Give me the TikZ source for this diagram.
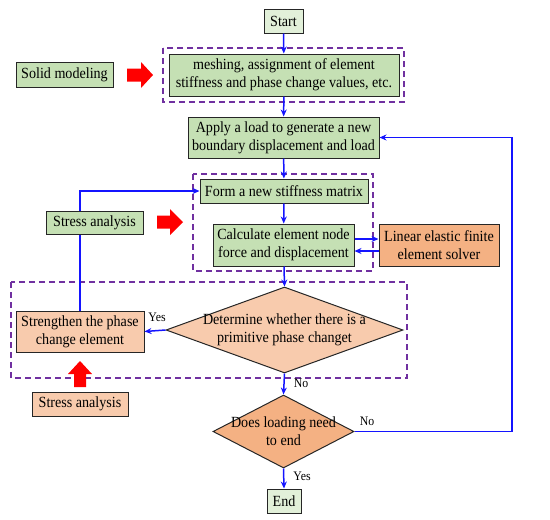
\documentclass[tikz,border=0pt]{standalone}
\usepackage{fontspec}
\setmainfont{Liberation Serif}[FakeStretch=0.91]
\usetikzlibrary{shapes.geometric,arrows.meta}
\definecolor{gbox}{RGB}{197,224,180}
\definecolor{gl}{RGB}{226,240,217}
\definecolor{od}{RGB}{244,177,131}
\definecolor{ol}{RGB}{248,203,173}
\definecolor{pur}{RGB}{112,48,160}
\definecolor{fblue}{RGB}{20,20,255}
\definecolor{red0}{RGB}{255,0,0}
\begin{document}
\begin{tikzpicture}[x=1pt,y=-1pt,
  box/.style={draw=black!85, line width=1pt, align=center, inner sep=0pt, font=\fontsize{15.5}{18}\selectfont},
  dia/.style={draw=black!85, line width=1pt, shape=diamond, inner sep=0pt},
  txt/.style={align=center, inner sep=0pt, font=\fontsize{15.5}{18}\selectfont},
  lbl/.style={inner sep=0pt, text=black, font=\fontsize{13}{15}\selectfont},
  flow/.style={fblue, line width=1.5pt, -{Stealth[length=7pt,width=6pt]}},
  grp/.style={draw=pur, line width=1.3pt, dash pattern=on 6pt off 4pt},
  blk/.style={fill=red0, draw=none}]
\useasboundingbox (0,0) rectangle (550,520);
% group frames
\draw[grp] (163,48) rectangle (404,102);
\draw[grp] (193,174) rectangle (373,271);
\draw[grp] (11,282) rectangle (407,378);
% nodes
\node[box, fill=gl, minimum width=39, minimum height=24] (start) at (283.5,21) {Start};
\node[box, fill=gbox, minimum width=230, minimum height=42] (mesh) at (284,75) {meshing, assignment of element\\stiffness and phase change values, etc.};
\node[box, fill=gbox, minimum width=97, minimum height=25] (solid) at (64.5,74.5) {Solid modeling};
\node[box, fill=gbox, minimum width=191, minimum height=41] (apply) at (283.5,137.5) {Apply a load to generate a new\\boundary displacement and load};
\node[box, fill=gbox, minimum width=168, minimum height=24] (form) at (284,191) {Form a new stiffness matrix};
\node[box, fill=gbox, minimum width=141, minimum height=42] (calc) at (283.5,245) {Calculate element node\\force and displacement};
\node[box, fill=od, minimum width=120, minimum height=42] (lin) at (439,245) {Linear elastic finite\\element solver};
\node[box, fill=ol, minimum width=128, minimum height=41] (str) at (80,331.5) {Strengthen the phase\\change element};
\node[box, fill=ol, minimum width=96, minimum height=24] (stro) at (80,404) {Stress analysis};
\node[dia, fill=ol, minimum width=237, minimum height=86] (d1) at (284.5,330) {};
\node[txt] at (d1) {Determine whether there is a\\primitive phase changet};
\node[dia, fill=od, minimum width=141, minimum height=73] (d2) at (283.5,431.5) {};
\node[txt] at (d2) {Does loading need\\to end};
\node[box, fill=gl, minimum width=34, minimum height=24] (end) at (284,501) {End};
\coordinate (rt) at (512,431.5);
% connectors
\draw[flow] (start) -- (mesh);
\draw[flow] (mesh) -- (apply);
\draw[flow] (apply) -- (form);
\draw[flow] (form) -- (calc);
\draw[flow] (calc) -- (d1.north);
\draw[flow] ([yshift=6pt]calc.east) -- ([yshift=6pt]lin.west);
\draw[flow] ([yshift=-6pt]lin.west) -- ([yshift=-6pt]calc.east);
\draw[flow] (d1.west) -- (str.east) node[lbl, pos=0.4, above=8pt] {Yes};
\draw[flow] (str.north) |- (form.west);
\draw[flow] (d1.south) -- (d2.north) node[lbl, pos=0.45, right=9pt] {No};
\draw[flow] (d2.east) -- (rt) |- (apply.east);
\node[lbl] at (367,421) {No};
\draw[flow] (d2.south) -- (end.north) node[lbl, pos=0.4, right=9pt] {Yes};
% stress analysis box over the line
\node[box, fill=gbox, minimum width=97, minimum height=23] (strg) at (94.5,222.5) {Stress analysis};
% red block arrows
\fill[blk] (127,68.5) -- (141,68.5) -- (141,62) -- (153,75) -- (141,88) -- (141,81.5) -- (127,81.5) -- cycle;
\fill[blk] (157,215.5) -- (170,215.5) -- (170,209) -- (183,222) -- (170,235) -- (170,228.5) -- (157,228.5) -- cycle;
\fill[blk] (80,361) -- (92,374) -- (86,374) -- (86,387) -- (74,387) -- (74,374) -- (68,374) -- cycle;
\end{tikzpicture}
\end{document}
